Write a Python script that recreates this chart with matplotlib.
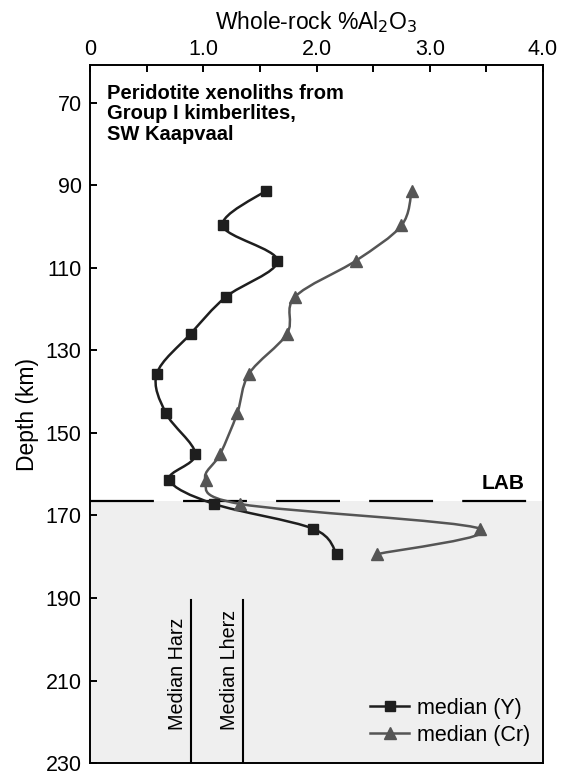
import matplotlib
matplotlib.use("Agg")
import matplotlib.pyplot as plt
from matplotlib.path import Path
from matplotlib.patches import PathPatch
from matplotlib.lines import Line2D

plt.rcParams['font.family'] = ['Liberation Sans', 'DejaVu Sans']
plt.rcParams['lines.scale_dashes'] = False

# median whole-rock Al2O3 by depth slice
depth = [91.3, 99.7, 108.2, 117.0, 125.9, 135.6, 145.2, 155.1, 161.3, 167.2, 173.2, 179.4]
al2o3_y = [1.55, 1.17, 1.655, 1.20, 0.89, 0.59, 0.67, 0.93, 0.70, 1.095, 1.97, 2.18]
al2o3_cr = [2.84, 2.75, 2.35, 1.81, 1.74, 1.405, 1.30, 1.15, 1.02, 1.325, 3.445, 2.53]

lab_depth = 166.5
median_names = ['Median Harz', 'Median Lherz']
median_values = [0.89, 1.35]
median_top = 190.5

y_ticks = [70, 90, 110, 130, 150, 170, 190, 210, 230]
x_ticks = [0, 1, 2, 3, 4]
x_ticklabels = ['0', '1.0', '2.0', '3.0', '4.0']


def smooth_path(xs, ys):
    # Catmull-Rom curve through the points, as cubic Bezier segments
    pts = list(zip(xs, ys))
    n = len(pts)
    verts = [pts[0]]
    codes = [Path.MOVETO]
    for i in range(n - 1):
        p0 = pts[i - 1] if i > 0 else pts[i]
        p1 = pts[i]
        p2 = pts[i + 1]
        p3 = pts[i + 2] if i + 2 < n else pts[i + 1]
        c1 = (p1[0] + (p2[0] - p0[0]) / 6, p1[1] + (p2[1] - p0[1]) / 6)
        c2 = (p2[0] - (p3[0] - p1[0]) / 6, p2[1] - (p3[1] - p1[1]) / 6)
        verts += [c1, c2, p2]
        codes += [Path.CURVE4] * 3
    return Path(verts, codes)


fig = plt.figure(figsize=(5.69, 7.74), dpi=100)
ax = fig.add_axes([0.1582, 0.0142, 0.7961, 0.9018])

ax.set_xlim(0, 4)
ax.set_ylim(230, 60.8)

# asthenosphere below the LAB
ax.axhspan(lab_depth, 230, color='#efefef', zorder=0, lw=0)
ax.axhline(lab_depth, color='black', lw=1.6, dashes=(46, 21), zorder=1)
ax.text(3.835, lab_depth - 2, 'LAB', ha='right', va='bottom',
        fontsize=15, fontweight='bold')

for name, val in zip(median_names, median_values):
    ax.plot([val, val], [median_top, 230], color='black', lw=1.5, zorder=2)
    ax.text(val - 0.12, 222, name, rotation=90, ha='center', va='bottom',
            fontsize=14.2)

c_y = '#1e1e1e'
c_cr = '#555555'
ax.add_patch(PathPatch(smooth_path(al2o3_y, depth), fc='none', ec=c_y, lw=1.8, zorder=3))
ax.add_patch(PathPatch(smooth_path(al2o3_cr, depth), fc='none', ec=c_cr, lw=1.8, zorder=3))
ax.plot(al2o3_y, depth, ls='none', marker='s', ms=7, color=c_y, zorder=4)
ax.plot(al2o3_cr, depth, ls='none', marker='^', ms=9, color=c_cr, zorder=4)

handles = [Line2D([], [], color=c_y, lw=1.8, marker='s', ms=7),
           Line2D([], [], color=c_cr, lw=1.8, marker='^', ms=9)]
ax.legend(handles, ['median (Y)', 'median (Cr)'], loc='lower right',
          bbox_to_anchor=(0.99, 0.012), borderaxespad=0, frameon=False,
          fontsize=15.5, handlelength=1.8, handletextpad=0.35, labelspacing=0.29)

ax.text(0.0375, 0.973, 'Peridotite xenoliths from\nGroup I kimberlites,\nSW Kaapvaal',
        transform=ax.transAxes, ha='left', va='top', fontsize=14.5,
        fontweight='bold', linespacing=1.1)

# axes: depth on the left, Al2O3 along the top
ax.xaxis.tick_top()
ax.xaxis.set_label_position('top')
ax.set_xticks(x_ticks, x_ticklabels)
ax.set_xticks([0.5, 1.5, 2.5, 3.5], minor=True)
ax.set_yticks(y_ticks)
ax.tick_params(axis='x', which='both', direction='in', length=5, width=1.4,
               labelsize=15.5, pad=3.5, bottom=False, top=True)
ax.tick_params(axis='y', direction='in', length=5, width=1.4, labelsize=15.5,
               pad=6, right=False)
ax.set_xlabel('Whole-rock %Al$_2$O$_3$', fontsize=16.5, labelpad=7)
ax.set_ylabel('Depth (km)', fontsize=16.5, labelpad=5)
for sp in ax.spines.values():
    sp.set_linewidth(1.4)

fig.savefig('out.png', dpi=100)
